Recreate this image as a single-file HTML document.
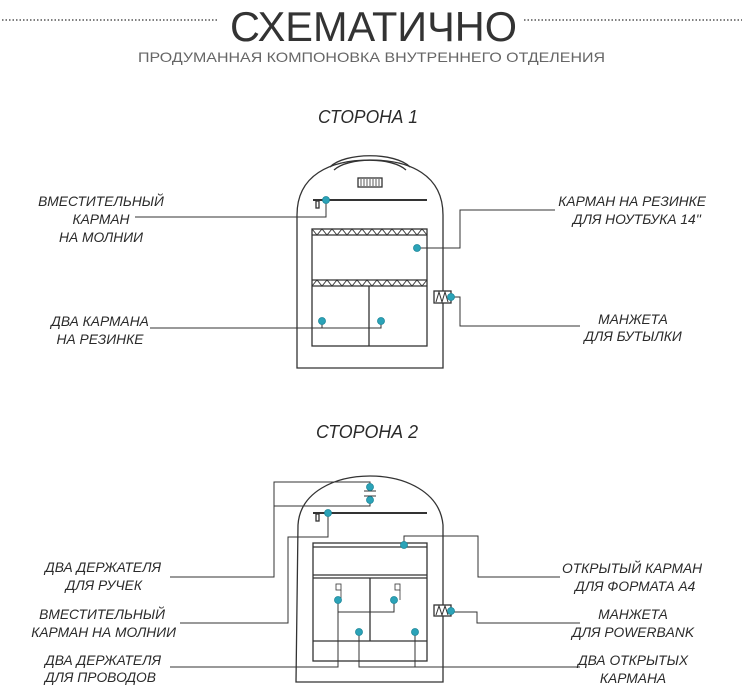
<!DOCTYPE html>
<html><head><meta charset="utf-8"><style>
html,body{margin:0;padding:0;background:#fff;}
svg{display:block;}
text{font-family:"Liberation Sans",sans-serif;fill:#2a2a2a;}
.l{font-size:13.8px;font-style:italic;}
</style></head><body>
<svg width="746" height="688" viewBox="0 0 746 688" xmlns="http://www.w3.org/2000/svg">
<line x1="2" y1="20" x2="218" y2="20" stroke="#555" stroke-width="1.5" stroke-dasharray="1.5 2"/>
<line x1="524" y1="20" x2="742" y2="20" stroke="#555" stroke-width="1.5" stroke-dasharray="1.5 2"/>
<text x="230" y="41" font-size="42" textLength="287" lengthAdjust="spacingAndGlyphs" style="font-weight:300;fill:#333">СХЕМАТИЧНО</text>
<text x="138" y="62" font-size="14" textLength="467" lengthAdjust="spacingAndGlyphs" style="fill:#666">ПРОДУМАННАЯ КОМПОНОВКА ВНУТРЕННЕГО ОТДЕЛЕНИЯ</text>
<text x="318" y="123" class="l" textLength="100" lengthAdjust="spacingAndGlyphs" style="font-size:18px">СТОРОНА 1</text>
<text x="316" y="438" class="l" textLength="102" lengthAdjust="spacingAndGlyphs" style="font-size:18px">СТОРОНА 2</text>

<g fill="none" stroke="#333" stroke-width="1.3">
<path d="M297,368 L297,215 C297,175 330,160 370,160 C410,160 443,175 443,215 L443,368 Z"/>
<path d="M330,167 C345,152 395,152 410,167"/>
<path d="M334,170 C348,157 392,157 406,170"/>
<rect x="358" y="178" width="24" height="9"/>
<path d="M361,179v7M364,179v7M367,179v7M370,179v7M373,179v7M376,179v7M379,179v7" stroke-width="0.8"/>
<line x1="313" y1="200" x2="427" y2="200" stroke-width="2"/>
<rect x="316" y="201" width="3" height="7"/>
<rect x="312" y="229" width="115" height="117"/>
<line x1="312" y1="235" x2="427" y2="235"/>
<polyline points="312,229 317,235 322,229 327,235 332,229 337,235 342,229 347,235 352,229 357,235 362,229 367,235 372,229 377,235 382,229 387,235 392,229 397,235 402,229 407,235 412,229 417,235 422,229 427,235" stroke-width="0.9"/>
<line x1="312" y1="280" x2="427" y2="280"/>
<line x1="312" y1="286" x2="427" y2="286"/>
<polyline points="312,286 317,280 322,286 327,280 332,286 337,280 342,286 347,280 352,286 357,280 362,286 367,280 372,286 377,280 382,286 387,280 392,286 397,280 402,286 407,280 412,286 417,280 422,286 427,280" stroke-width="0.9"/>
<line x1="369" y1="286" x2="369" y2="346"/>
<rect x="434" y="291" width="17" height="12" fill="#fff"/>
<polyline points="436,302 439,292 442,302 445,292 448,302" stroke-width="1"/>
<path d="M135,217 H326 V200" stroke-width="1"/>
<path d="M417,248 H460 V210 H555" stroke-width="1"/>
<path d="M150,328 H381 V321 M322,321 V328" stroke-width="1"/>
<path d="M451,297 H460 V326 H580" stroke-width="1"/>

<path d="M296,682 L298,525 C300,492 335,476 370,476 C405,476 440,492 443,525 L443,682 Z"/>
<path d="M364,491 H376 M364,496 H376" stroke-width="1"/>
<line x1="313" y1="513" x2="427" y2="513" stroke-width="2"/>
<rect x="316" y="514" width="3" height="7"/>
<rect x="313" y="543" width="114" height="118"/>
<line x1="313" y1="547" x2="427" y2="547"/>
<line x1="313" y1="575" x2="427" y2="575"/>
<line x1="313" y1="578" x2="427" y2="578"/>
<line x1="370" y1="578" x2="370" y2="641"/>
<line x1="313" y1="641" x2="427" y2="641"/>
<rect x="336" y="584" width="5" height="6" stroke-width="0.8"/>
<rect x="395" y="584" width="5" height="6" stroke-width="0.8"/>
<line x1="341" y1="590" x2="341" y2="600" stroke-width="0.8"/>
<line x1="400" y1="590" x2="400" y2="600" stroke-width="0.8"/>
<rect x="434" y="605" width="17" height="11" fill="#fff"/>
<polyline points="436,615 439,606 442,615 445,606 448,615" stroke-width="1"/>
<path d="M370,487 V482 H274 V577 H170" stroke-width="1"/>
<path d="M370,500 V506 H274" stroke-width="1"/>
<path d="M328,513 V537 H288 V623 H180" stroke-width="1"/>
<path d="M404,545 V536 H478 V577 H560" stroke-width="1"/>
<path d="M394,600 V612 H338 M338,600 V667 H170" stroke-width="1"/>
<path d="M359,632 V667 H580 M415,632 V667" stroke-width="1"/>
<path d="M451,612 H477 V623 H580" stroke-width="1"/>
</g>
<g fill="#2ba3b8" stroke="#1d8799" stroke-width="0.8">
<circle cx="326" cy="200" r="3.5"/><circle cx="417" cy="248" r="3.5"/>
<circle cx="322" cy="321" r="3.5"/><circle cx="381" cy="321" r="3.5"/>
<circle cx="451" cy="297" r="3.5"/>
<circle cx="370" cy="487" r="3.5"/><circle cx="370" cy="500" r="3.5"/>
<circle cx="328" cy="513" r="3.5"/><circle cx="404" cy="545" r="3.5"/>
<circle cx="338" cy="600" r="3.5"/><circle cx="394" cy="600" r="3.5"/>
<circle cx="359" cy="632" r="3.5"/><circle cx="415" cy="632" r="3.5"/>
<circle cx="451" cy="611" r="3.5"/>
</g>

<g text-anchor="middle">
<text x="101" y="206" class="l">ВМЕСТИТЕЛЬНЫЙ</text>
<text x="101" y="224" class="l">КАРМАН</text>
<text x="101" y="242" class="l">НА МОЛНИИ</text>
<text x="100" y="326" class="l">ДВА КАРМАНА</text>
<text x="100" y="344" class="l">НА РЕЗИНКЕ</text>
<text x="633" y="324" class="l">МАНЖЕТА</text>
<text x="633" y="341" class="l">ДЛЯ БУТЫЛКИ</text>
<text x="633" y="619" class="l">МАНЖЕТА</text>
<text x="633" y="637" class="l">ДЛЯ POWERBANK</text>
<text x="633" y="665" class="l">ДВА ОТКРЫТЫХ</text>
<text x="633" y="683" class="l">КАРМАНА</text>
</g>
<g text-anchor="end">
<text x="706" y="206" class="l">КАРМАН НА РЕЗИНКЕ</text>
<text x="701" y="224" class="l">ДЛЯ НОУТБУКА 14''</text>
<text x="161" y="572" class="l">ДВА ДЕРЖАТЕЛЯ</text>
<text x="142" y="590" class="l">ДЛЯ РУЧЕК</text>
<text x="165" y="619" class="l">ВМЕСТИТЕЛЬНЫЙ</text>
<text x="176" y="637" class="l">КАРМАН НА МОЛНИИ</text>
<text x="161" y="665" class="l">ДВА ДЕРЖАТЕЛЯ</text>
<text x="156" y="682" class="l">ДЛЯ ПРОВОДОВ</text>
</g>
<g text-anchor="start">
<text x="562" y="573" class="l">ОТКРЫТЫЙ КАРМАН</text>
<text x="575" y="591" class="l">ДЛЯ ФОРМАТА А4</text>
</g>
</svg>
</body></html>
